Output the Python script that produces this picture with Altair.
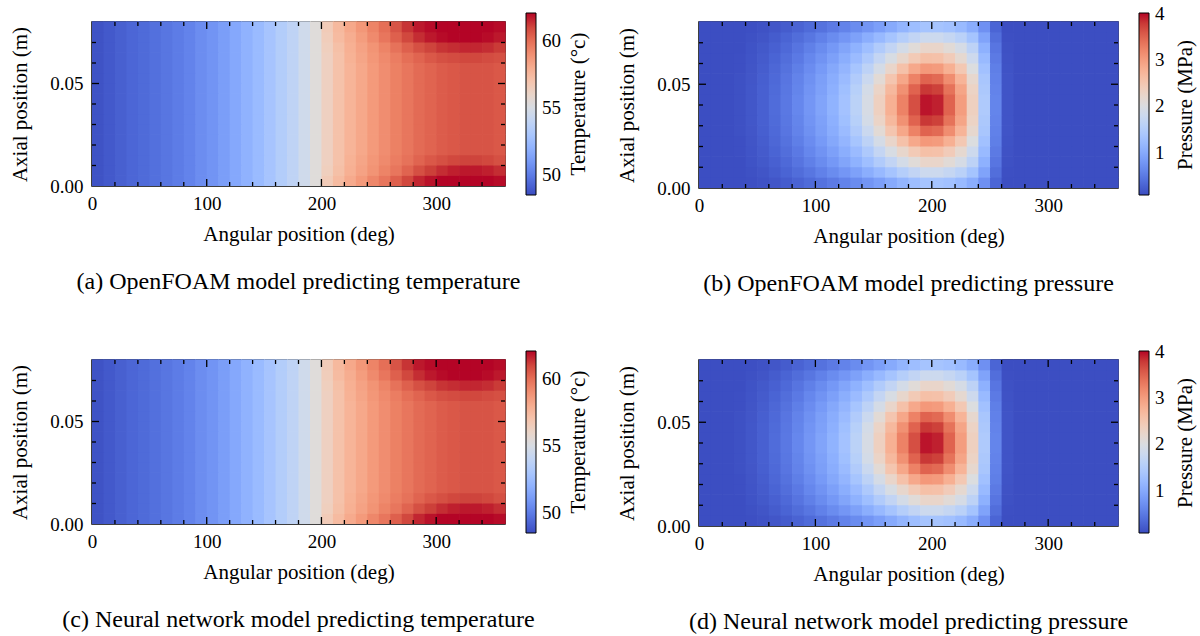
import altair as alt
import pandas as pd

FONT = "Liberation Serif"

# cell edges of the field grids
ANGLE_EDGES = [0, 10, 20, 30, 40, 50, 60, 70, 80, 90, 100, 110, 120, 130, 140, 150, 160, 170, 180,
               190, 200, 210, 220, 230, 240, 250, 260, 270, 280, 290, 300, 310, 320, 330, 340, 350, 360]
AXIAL_EDGES = [0.000, 0.005, 0.010, 0.015, 0.020, 0.025, 0.030, 0.035, 0.040,
               0.045, 0.050, 0.055, 0.060, 0.065, 0.070, 0.075, 0.080]

# temperature (deg C), angles 0-200 (same on every axial row)
T_LEFT = [48.7, 48.9, 49.1, 49.3, 49.45, 49.6, 49.8, 50.0, 50.25, 50.6,
          50.85, 51.2, 51.6, 52.0, 52.4, 52.9, 53.4, 53.9, 54.6, 55.4]
# temperature, angles 200-360, per axial band
T_RIGHT_MID = [56.3, 57.1, 57.7, 58.2, 58.7, 59.1, 59.5, 59.8, 60.1, 60.3, 60.5, 60.6, 60.7, 60.7, 60.7, 60.6]
T_RIGHT_TOP1 = [56.6, 57.5, 58.2, 58.8, 59.4, 60.0, 60.7, 61.4, 61.8, 62.0, 62.1, 62.1, 62.1, 62.1, 62.1, 62.0]
T_RIGHT_TOP2 = [56.5, 57.4, 58.0, 58.6, 59.2, 59.8, 60.4, 61.0, 61.5, 61.8, 62.0, 62.1, 62.1, 62.1, 62.0, 61.8]
T_RIGHT_TOP3 = [56.4, 57.2, 57.9, 58.4, 58.9, 59.4, 59.9, 60.4, 60.8, 61.1, 61.4, 61.5, 61.6, 61.6, 61.5, 61.3]
T_RIGHT_TOP4 = [56.3, 57.1, 57.8, 58.3, 58.8, 59.2, 59.6, 60.0, 60.3, 60.6, 60.8, 60.9, 61.0, 61.0, 60.9, 60.8]
T_RIGHT_BOT1 = [56.6, 57.4, 58.1, 58.7, 59.3, 59.8, 60.4, 61.0, 61.6, 61.9, 62.1, 62.1, 62.1, 62.1, 62.1, 62.0]
T_RIGHT_BOT2 = [56.4, 57.2, 57.9, 58.4, 58.9, 59.4, 59.8, 60.3, 60.8, 61.2, 61.5, 61.7, 61.8, 61.8, 61.7, 61.5]
T_RIGHT_BOT3 = [56.3, 57.1, 57.8, 58.3, 58.8, 59.2, 59.6, 59.9, 60.3, 60.6, 60.8, 61.0, 61.1, 61.1, 61.0, 60.8]
T_ROWS = ([T_RIGHT_BOT1, T_RIGHT_BOT2, T_RIGHT_BOT3] + [T_RIGHT_MID] * 9 +
          [T_RIGHT_TOP4, T_RIGHT_TOP3, T_RIGHT_TOP2, T_RIGHT_TOP1])

# pressure (MPa) by distance of the axial band from mid-height (D0 = centre band)
P_D0 = [0.1, 0.1, 0.1, 0.12, 0.18, 0.26, 0.36, 0.48, 0.62, 0.78, 0.93, 1.1, 1.32, 1.6, 1.95, 2.35, 2.8, 3.25,
        3.65, 3.95, 3.9, 3.5, 3.0, 2.35, 1.45, 0.6, 0.15, 0.1, 0.1, 0.1, 0.1, 0.1, 0.1, 0.1, 0.1, 0.1]
P_D1 = [0.1, 0.1, 0.1, 0.12, 0.18, 0.26, 0.35, 0.47, 0.6, 0.76, 0.9, 1.07, 1.28, 1.55, 1.9, 2.28, 2.7, 3.12,
        3.5, 3.8, 3.75, 3.38, 2.92, 2.3, 1.42, 0.58, 0.15, 0.1, 0.1, 0.1, 0.1, 0.1, 0.1, 0.1, 0.1, 0.1]
P_D2 = [0.1, 0.1, 0.1, 0.12, 0.17, 0.25, 0.34, 0.45, 0.58, 0.73, 0.87, 1.03, 1.22, 1.47, 1.78, 2.13, 2.52, 2.9,
        3.25, 3.5, 3.45, 3.15, 2.75, 2.2, 1.38, 0.56, 0.15, 0.1, 0.1, 0.1, 0.1, 0.1, 0.1, 0.1, 0.1, 0.1]
P_D3 = [0.1, 0.1, 0.1, 0.11, 0.16, 0.23, 0.32, 0.42, 0.54, 0.68, 0.82, 0.97, 1.14, 1.36, 1.62, 1.92, 2.25, 2.58,
        2.88, 3.05, 3.02, 2.8, 2.48, 2.02, 1.3, 0.54, 0.14, 0.1, 0.1, 0.1, 0.1, 0.1, 0.1, 0.1, 0.1, 0.1]
P_D4 = [0.1, 0.1, 0.1, 0.11, 0.15, 0.21, 0.29, 0.38, 0.49, 0.62, 0.75, 0.89, 1.04, 1.22, 1.44, 1.7, 1.96, 2.22,
        2.45, 2.6, 2.58, 2.42, 2.18, 1.82, 1.2, 0.5, 0.13, 0.1, 0.1, 0.1, 0.1, 0.1, 0.1, 0.1, 0.1, 0.1]
P_D5 = [0.1, 0.1, 0.1, 0.1, 0.14, 0.19, 0.26, 0.34, 0.44, 0.55, 0.67, 0.8, 0.94, 1.09, 1.27, 1.47, 1.68, 1.9,
        2.1, 2.25, 2.24, 2.12, 1.93, 1.62, 1.08, 0.45, 0.12, 0.1, 0.1, 0.1, 0.1, 0.1, 0.1, 0.1, 0.1, 0.1]
P_D6 = [0.1, 0.1, 0.1, 0.1, 0.12, 0.16, 0.22, 0.29, 0.37, 0.46, 0.56, 0.67, 0.78, 0.9, 1.04, 1.19, 1.35, 1.52,
        1.68, 1.8, 1.8, 1.72, 1.58, 1.34, 0.92, 0.38, 0.11, 0.1, 0.1, 0.1, 0.1, 0.1, 0.1, 0.1, 0.1, 0.1]
P_D7 = [0.1, 0.1, 0.1, 0.1, 0.11, 0.13, 0.17, 0.22, 0.28, 0.35, 0.42, 0.5, 0.58, 0.67, 0.77, 0.88, 1.0, 1.13,
        1.25, 1.35, 1.35, 1.3, 1.2, 1.03, 0.72, 0.3, 0.1, 0.1, 0.1, 0.1, 0.1, 0.1, 0.1, 0.1, 0.1, 0.1]
P_ROWS = [P_D7, P_D6, P_D5, P_D4, P_D3, P_D2, P_D1, P_D0, P_D0, P_D1, P_D2, P_D3, P_D4, P_D5, P_D6, P_D7]

X_MAJOR = [100, 200, 300]
X_MINOR = [20, 40, 60, 80, 120, 140, 160, 180, 220, 240, 260, 280, 320, 340]
Y_MAJOR = [0.05]
Y_MINOR = [0.01, 0.02, 0.03, 0.04, 0.06, 0.07]

COOLWARM = ["#3b4cc0", "#4d68d7", "#6282ea", "#779af7", "#8db0fe", "#a3c2ff", "#b8d0f9", "#ccd9ee",
            "#dddddd", "#ecd3c5", "#f5c4ad", "#f7b194", "#f49a7b", "#ec7f63", "#de604d", "#cb3e38", "#b40426"]

CAPTIONS = ["(a) OpenFOAM model predicting temperature",
            "(b) OpenFOAM model predicting pressure",
            "(c) Neural network model predicting temperature",
            "(d) Neural network model predicting pressure"]


def field_df(row_profiles, left=None):
    recs = []
    for i, prof in enumerate(row_profiles):
        vals = (left + prof) if left is not None else prof
        for j, v in enumerate(vals):
            recs.append({"a0": ANGLE_EDGES[j], "a1": ANGLE_EDGES[j + 1],
                         "z0": AXIAL_EDGES[i], "z1": AXIAL_EDGES[i + 1], "v": v})
    return pd.DataFrame(recs)


TEMP_DF = field_df(T_ROWS, T_LEFT)
PRESS_DF = field_df(P_ROWS)


def panel(df, domain, lvalues, ltitle, title_dx, caption, W, H):
    xs = alt.Scale(domain=[0, 360], nice=False, zero=False)
    ys = alt.Scale(domain=[0, 0.08], nice=False, zero=False)
    cs = alt.Scale(type="linear", domain=domain, range=COOLWARM, interpolate="rgb", clamp=True)
    xaxis = alt.Axis(values=[0, 100, 200, 300], title="Angular position (deg)", labelFlush=False,
                     labelOverlap=False, labelPadding=8, titlePadding=10)
    yaxis = alt.Axis(values=[0, 0.05], format=".2f", title="Axial position (m)", labelFlush=False,
                     labelOverlap=False, labelPadding=9, titlePadding=19)
    heat = alt.Chart(df).mark_rect(x2Offset=0.7, y2Offset=-0.7).encode(
        x=alt.X("a0:Q", scale=xs, axis=xaxis),
        x2="a1:Q",
        y=alt.Y("z0:Q", scale=ys, axis=yaxis),
        y2="z1:Q",
        color=alt.Color("v:Q", scale=cs, legend=alt.Legend(
            type="gradient", orient="none", legendX=W + 21, legendY=-9, direction="vertical",
            gradientLength=182, gradientThickness=10, values=lvalues, format="d",
            title=None, labelOffset=6, gradientStrokeColor="black",
            gradientStrokeWidth=1)),
    )

    def vrules(vals, y0, y1):
        return alt.Chart(pd.DataFrame({"a0": vals})).mark_rule(color="black", strokeWidth=1.3).encode(
            x=alt.X("a0:Q", scale=xs, axis=xaxis), y=alt.value(y0), y2=alt.value(y1))

    def hrules(vals, x0, x1):
        return alt.Chart(pd.DataFrame({"z0": vals})).mark_rule(color="black", strokeWidth=1.3).encode(
            y=alt.Y("z0:Q", scale=ys, axis=yaxis), x=alt.value(x0), x2=alt.value(x1))

    cbar_title = alt.Chart(pd.DataFrame({"t": [ltitle]})).mark_text(
        angle=270, font=FONT, fontSize=21, color="black", align="center", baseline="middle"
    ).encode(x=alt.value(W + title_dx), y=alt.value(H / 2), text="t:N")

    layers = [heat,
              vrules(X_MAJOR, H, H - 7), vrules(X_MAJOR, 0, 7),
              vrules(X_MINOR, H, H - 4), vrules(X_MINOR, 0, 4),
              hrules(Y_MAJOR, 0, 7), hrules(Y_MAJOR, W, W - 7),
              hrules(Y_MINOR, 0, 4), hrules(Y_MINOR, W, W - 4),
              cbar_title]
    return alt.layer(*layers).properties(
        width=W, height=H,
        title=alt.TitleParams(caption, orient="bottom", anchor="middle", fontSize=24,
                              font=FONT, fontWeight="normal", color="black", offset=26))


pa = panel(TEMP_DF, [48.5, 62.1], [50, 55, 60], "Temperature (°c)", 74, CAPTIONS[0], 413, 164)
pb = panel(PRESS_DF, [0.08, 4.02], [1, 2, 3, 4], "Pressure (MPa)", 68, CAPTIONS[1], 419, 166)
pc = panel(TEMP_DF, [48.5, 62.1], [50, 55, 60], "Temperature (°c)", 74, CAPTIONS[2], 413, 164)
pd_ = panel(PRESS_DF, [0.08, 4.02], [1, 2, 3, 4], "Pressure (MPa)", 68, CAPTIONS[3], 419, 166)

RES = dict(color="independent")
top = alt.hconcat(pa, pb, spacing=26).resolve_scale(**RES).resolve_legend(**RES)
bottom = alt.hconcat(pc, pd_, spacing=26).resolve_scale(**RES).resolve_legend(**RES)

chart = alt.vconcat(top, bottom, spacing=53).resolve_scale(**RES).resolve_legend(**RES).properties(
    padding={"left": 9, "top": 12, "right": 0, "bottom": 0}
).configure(font=FONT).configure_view(
    stroke="black", strokeWidth=1.5
).configure_axis(
    ticks=False, domain=False, grid=False, labelFontSize=19, titleFontSize=21,
    labelFont=FONT, titleFont=FONT, titleFontWeight="normal", labelColor="black", titleColor="black"
).configure_legend(
    labelFontSize=19, labelFont=FONT, labelColor="black"
)

chart.save("out.html", embed_options={"renderer": "svg", "actions": False})
